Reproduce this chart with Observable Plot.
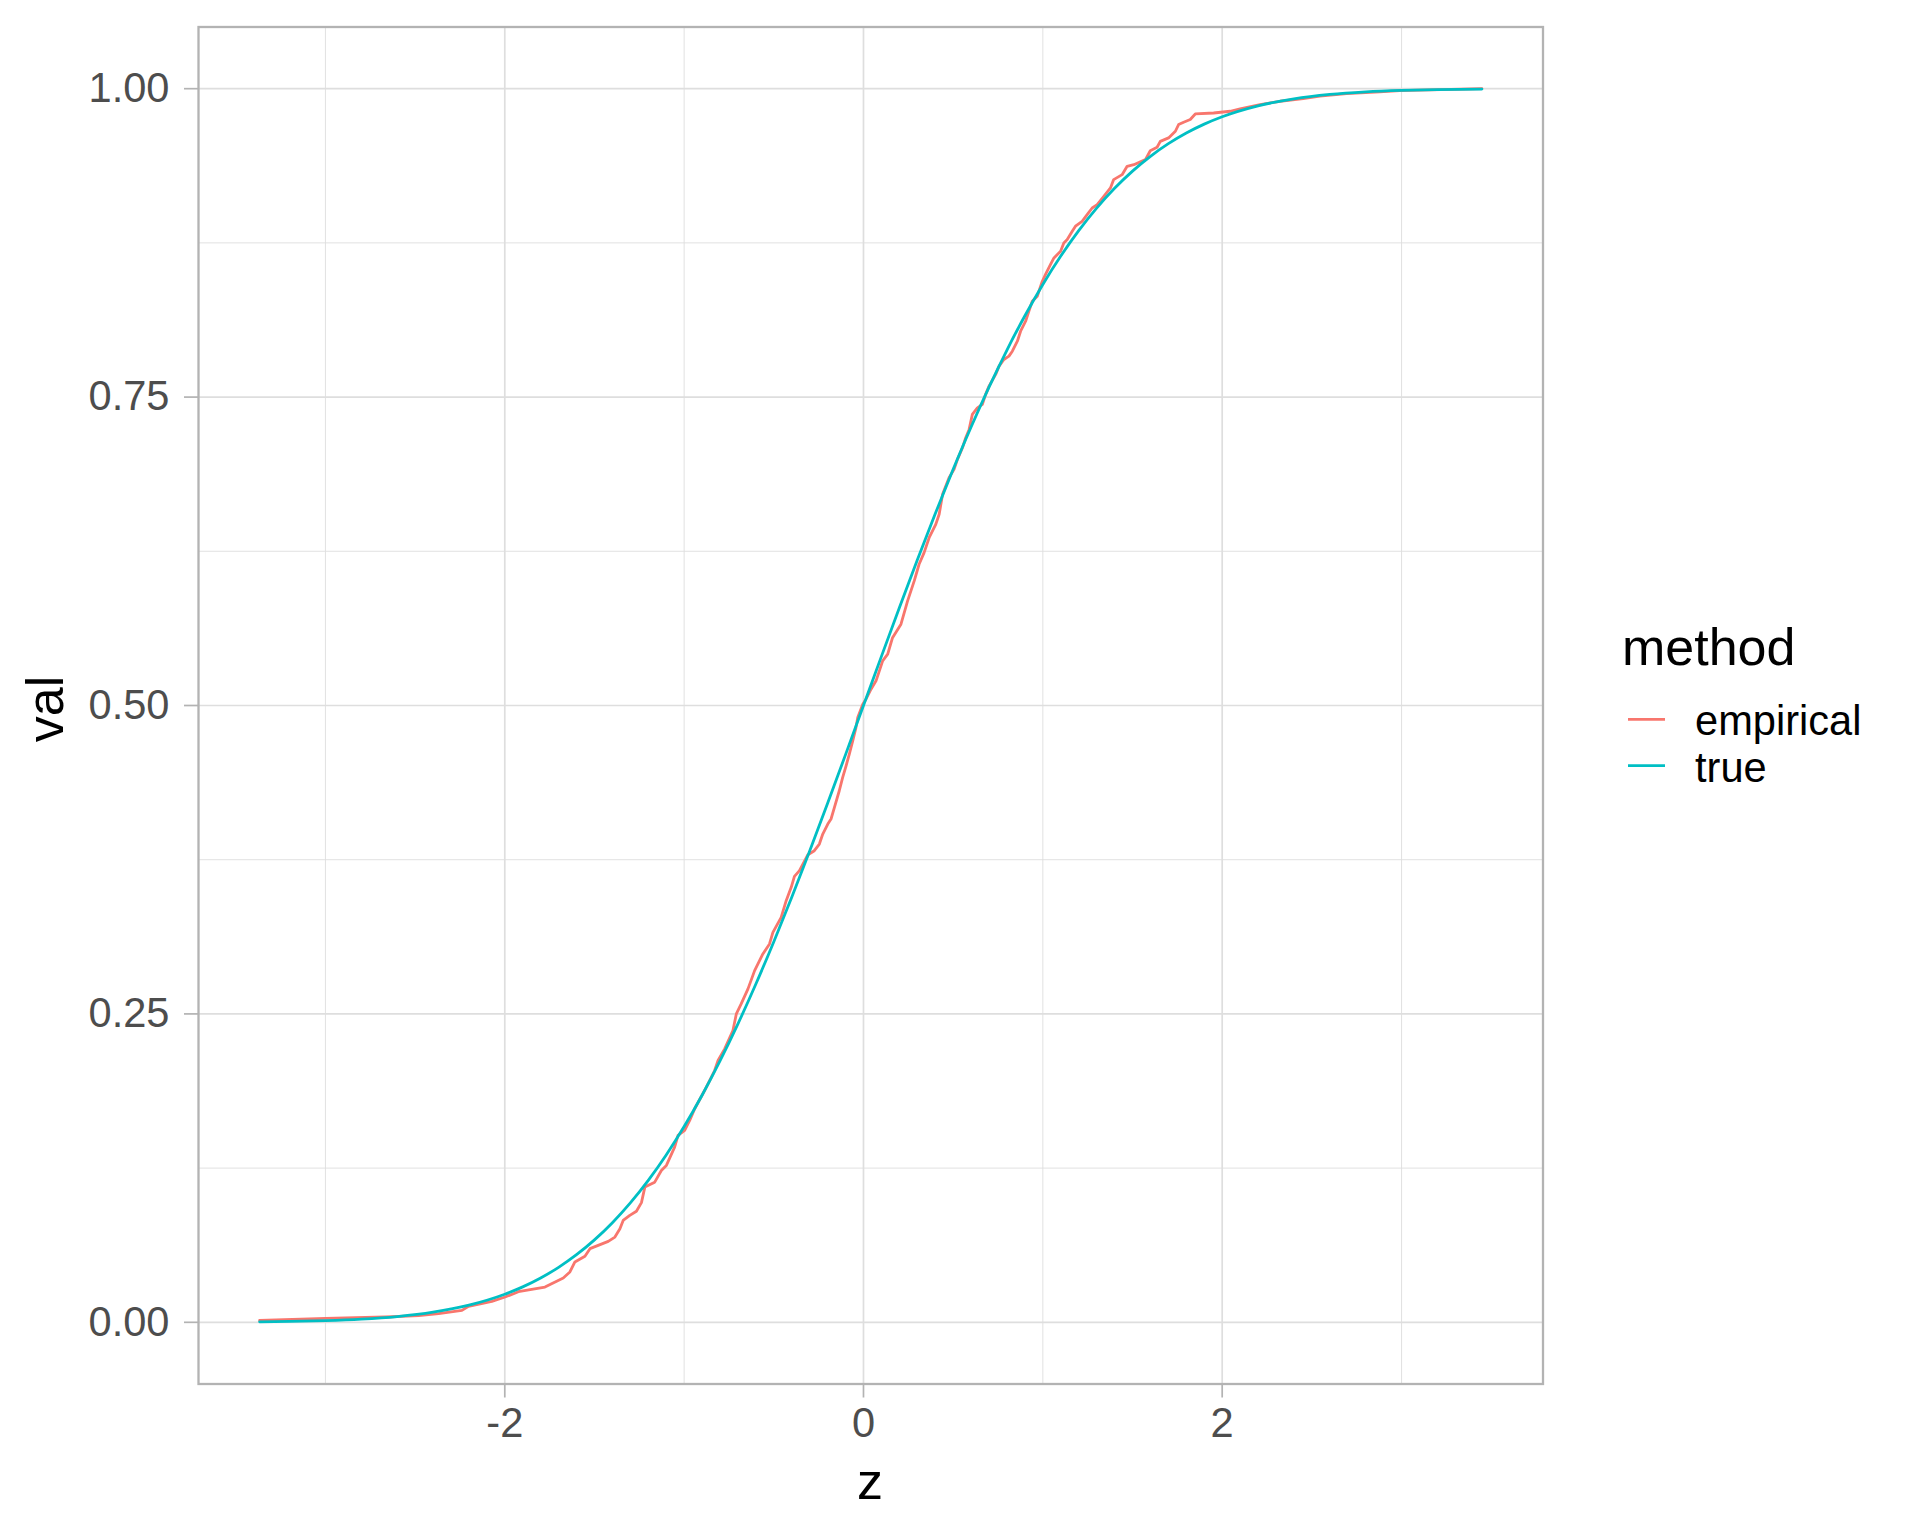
<!DOCTYPE html>
<html>
<head>
<meta charset="utf-8">
<script src="https://cdn.jsdelivr.net/npm/d3@7"></script>
<script src="https://cdn.jsdelivr.net/npm/@observablehq/plot@0.6"></script>
<style>
  html, body { margin: 0; padding: 0; background: #ffffff; }
  #chart { width: 1920px; height: 1536px; }
</style>
</head>
<body>
<div id="chart"></div>
<script>
// ---- data ----
const methods = ["empirical", "true"];
const methodColors = ["#F8766D", "#00BFC4"];

const zEmpirical = [
  -3.367, -3.000, -2.666, -2.480, -2.369, -2.239, -2.202, -2.072, -1.998, -1.924,
  -1.776, -1.739, -1.674, -1.637, -1.609, -1.553, -1.525, -1.423, -1.386, -1.358,
  -1.340, -1.303, -1.266, -1.238, -1.219, -1.164, -1.127, -1.099, -1.053, -1.034,
  -0.997, -0.969, -0.941, -0.886, -0.830, -0.811, -0.774, -0.728, -0.709, -0.682,
  -0.644, -0.607, -0.561, -0.524, -0.505, -0.459, -0.431, -0.403, -0.385, -0.357,
  -0.310, -0.274, -0.246, -0.227, -0.199, -0.181, -0.162, -0.135, -0.116, -0.097,
  -0.079, -0.060, -0.042, -0.032, -0.004, 0.014, 0.042, 0.070, 0.107, 0.135,
  0.162, 0.209, 0.246, 0.283, 0.310, 0.338, 0.366, 0.403, 0.422, 0.441,
  0.477, 0.505, 0.524, 0.552, 0.570, 0.589, 0.607, 0.635, 0.663, 0.681,
  0.700, 0.737, 0.756, 0.783, 0.811, 0.830, 0.858, 0.876, 0.904, 0.922,
  0.941, 0.969, 0.997, 1.015, 1.043, 1.062, 1.099, 1.117, 1.136, 1.164,
  1.182, 1.219, 1.247, 1.275, 1.303, 1.340, 1.377, 1.395, 1.442, 1.470,
  1.507, 1.572, 1.599, 1.637, 1.655, 1.701, 1.739, 1.757, 1.785, 1.822,
  1.850, 1.952, 2.045, 2.100, 2.211, 2.323, 2.452, 2.545, 2.694, 2.879,
  2.990, 3.448
];
const valEmpirical = [
  0.0016, 0.0032, 0.0043, 0.0054, 0.0070, 0.0097, 0.0130, 0.0170, 0.0205, 0.0248,
  0.0286, 0.0313, 0.0359, 0.0408, 0.0489, 0.0535, 0.0597, 0.0656, 0.0691, 0.0759,
  0.0826, 0.0867, 0.0900, 0.0970, 0.1096, 0.1136, 0.1231, 0.1272, 0.1420, 0.1515,
  0.1555, 0.1636, 0.1731, 0.1879, 0.2041, 0.2122, 0.2217, 0.2365, 0.2500, 0.2581,
  0.2703, 0.2851, 0.2986, 0.3067, 0.3161, 0.3283, 0.3418, 0.3526, 0.3615, 0.3661,
  0.3790, 0.3823, 0.3877, 0.3958, 0.4039, 0.4080, 0.4174, 0.4309, 0.4417, 0.4511,
  0.4606, 0.4714, 0.4821, 0.4902, 0.5011, 0.5051, 0.5132, 0.5200, 0.5362, 0.5416,
  0.5550, 0.5659, 0.5848, 0.6010, 0.6145, 0.6239, 0.6360, 0.6468, 0.6550, 0.6712,
  0.6846, 0.6914, 0.6995, 0.7089, 0.7170, 0.7238, 0.7360, 0.7413, 0.7441, 0.7522,
  0.7589, 0.7684, 0.7751, 0.7805, 0.7832, 0.7872, 0.7953, 0.8034, 0.8115, 0.8196,
  0.8277, 0.8318, 0.8439, 0.8494, 0.8575, 0.8628, 0.8682, 0.8750, 0.8777, 0.8844,
  0.8885, 0.8925, 0.8979, 0.9033, 0.9060, 0.9128, 0.9195, 0.9263, 0.9303, 0.9371,
  0.9384, 0.9425, 0.9497, 0.9525, 0.9573, 0.9601, 0.9655, 0.9709, 0.9728, 0.9750,
  0.9795, 0.9803, 0.9817, 0.9836, 0.9871, 0.9898, 0.9920, 0.9939, 0.9960, 0.9974,
  0.9984, 1.0000
];

const zTrue = [
  -3.367, -3.2, -3.0, -2.8, -2.6, -2.4, -2.2, -2.0, -1.9, -1.8, -1.7, -1.6, -1.5,
  -1.4, -1.3, -1.2, -1.1, -1.0, -0.9, -0.8, -0.7, -0.6, -0.5, -0.4, -0.3, -0.2, -0.1,
  0.0, 0.1, 0.2, 0.3, 0.4, 0.5, 0.6, 0.7, 0.8, 0.9, 1.0, 1.1, 1.2, 1.3, 1.4, 1.5,
  1.6, 1.7, 1.8, 1.9, 2.0, 2.2, 2.4, 2.6, 2.8, 3.0, 3.2, 3.448
];
const valTrue = [
  0.00038, 0.00069, 0.00135, 0.00256, 0.00466, 0.00820, 0.01390, 0.02275, 0.02872,
  0.03593, 0.04457, 0.05480, 0.06681, 0.08076, 0.09680, 0.11507, 0.13567, 0.15866,
  0.18406, 0.21186, 0.24196, 0.27425, 0.30854, 0.34458, 0.38209, 0.42074, 0.46017,
  0.50000, 0.53983, 0.57926, 0.61791, 0.65542, 0.69146, 0.72575, 0.75804, 0.78814,
  0.81594, 0.84134, 0.86433, 0.88493, 0.90320, 0.91924, 0.93319, 0.94520, 0.95543,
  0.96407, 0.97128, 0.97725, 0.98610, 0.99180, 0.99534, 0.99744, 0.99865, 0.99931,
  0.99972
];

const xTicksMajor = [-2, 0, 2];
const xTicksMinor = [-3, -1, 1, 3];
const yTicksMajor = [0, 0.25, 0.5, 0.75, 1];
const yTicksMinor = [0.125, 0.375, 0.625, 0.875];

const xLabel = "z";
const yLabel = "val";
const legendTitle = "method";

// ---- build tables ----
const empData = zEmpirical.map((z, i) => ({z, val: valEmpirical[i], method: methods[0]}));
const trueData = zTrue.map((z, i) => ({z, val: valTrue[i], method: methods[1]}));

const FONT = "'Liberation Sans', Arial, Helvetica, sans-serif";
const gridCol = "#DEDEDE";
const axisCol = "#B3B3B3";

// x range: data range expanded 5% each side
const xMin = d3.min(zEmpirical), xMax = d3.max(zEmpirical);
const xPad = (xMax - xMin) * 0.05;

const plot = Plot.plot({
  width: 1920,
  height: 1536,
  marginLeft: 198,
  marginRight: 377.5,
  marginTop: 26.5,
  marginBottom: 152.5,
  x: {domain: [xMin - xPad, xMax + xPad]},
  y: {domain: [-0.05, 1.05]},
  color: {domain: methods, range: methodColors},
  style: {fontFamily: FONT, background: "#ffffff", overflow: "visible"},
  marks: [
    Plot.gridX(xTicksMinor, {stroke: gridCol, strokeOpacity: 1, strokeWidth: 0.9}),
    Plot.gridY(yTicksMinor, {stroke: gridCol, strokeOpacity: 1, strokeWidth: 0.9}),
    Plot.gridX(xTicksMajor, {stroke: gridCol, strokeOpacity: 1, strokeWidth: 1.7}),
    Plot.gridY(yTicksMajor, {stroke: gridCol, strokeOpacity: 1, strokeWidth: 1.7}),
    Plot.line(empData, {x: "z", y: "val", stroke: "method", strokeWidth: 2.8}),
    Plot.line(trueData, {x: "z", y: "val", stroke: "method", strokeWidth: 2.8, curve: "monotone-x"}),
    Plot.frame({stroke: axisCol, strokeWidth: 2.3}),
    Plot.axisX(xTicksMajor, {
      tickSize: 14, tickPadding: 9.5, fontSize: 41.6,
      fill: "#4D4D4D", stroke: axisCol, strokeWidth: 1.7, label: null,
      tickFormat: d => d3.format("d")(d).replace("−", "-")
    }),
    Plot.axisY(yTicksMajor, {
      tickSize: 14, tickPadding: 15, fontSize: 41.6,
      fill: "#4D4D4D", stroke: axisCol, strokeWidth: 1.7, label: null,
      tickFormat: d3.format(".2f")
    })
  ]
});

document.getElementById("chart").appendChild(plot);

// ---- axis titles and legend ----
const svg = d3.select(plot);
const g = svg.append("g").attr("font-family", FONT).attr("text-anchor", "start");

g.append("text")
  .attr("x", 870).attr("y", 1499)
  .attr("text-anchor", "middle")
  .attr("font-size", 52).attr("fill", "#000")
  .text(xLabel);

g.append("text")
  .attr("transform", "translate(63,709) rotate(-90)")
  .attr("text-anchor", "middle")
  .attr("font-size", 52).attr("fill", "#000")
  .text(yLabel);

g.append("text")
  .attr("x", 1622).attr("y", 665)
  .attr("text-anchor", "start")
  .attr("font-size", 52).attr("fill", "#000")
  .text(legendTitle);

const keyY = [719.3, 765.7];
const labY = [735, 781.7];
methods.forEach((m, i) => {
  g.append("line")
    .attr("x1", 1628).attr("x2", 1665)
    .attr("y1", keyY[i]).attr("y2", keyY[i])
    .attr("stroke", methodColors[i]).attr("stroke-width", 2.8);
  g.append("text")
    .attr("x", 1695).attr("y", labY[i])
    .attr("text-anchor", "start")
    .attr("font-size", 41.6).attr("fill", "#000")
    .text(m);
});
</script>
</body>
</html>
